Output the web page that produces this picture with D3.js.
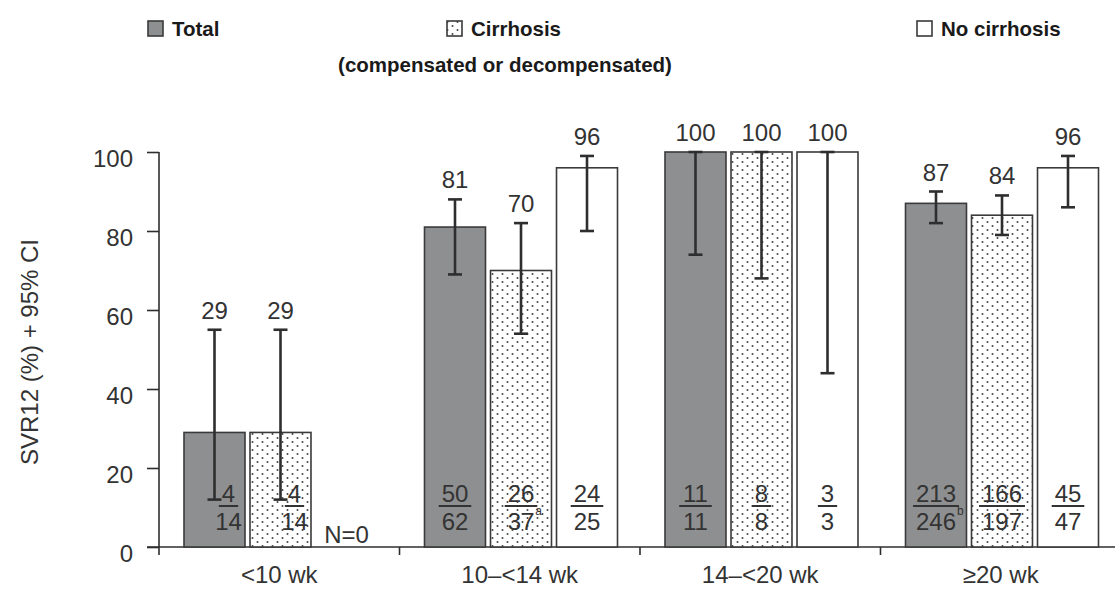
<!DOCTYPE html>
<html>
<head>
<meta charset="utf-8">
<script src="https://cdn.jsdelivr.net/npm/d3@7"></script>
<style>
  html, body { margin: 0; padding: 0; background: #fff; }
  svg { display: block; font-family: "Liberation Sans", Arial, sans-serif; }
</style>
</head>
<body>
<svg id="chart" width="1115" height="589"></svg>
<script>
// ---- data ----
const groups = ["<10 wk", "10\u2013<14 wk", "14\u2013<20 wk", "\u226520 wk"];
const seriesNames = ["Total", "Cirrhosis", "No cirrhosis"];
const totalValues = [29, 81, 100, 87];
const cirrhosisValues = [29, 70, 100, 84];
const noCirrhosisValues = [null, 96, 100, 96];
const totalLow = [12, 69, 74, 82];
const totalHigh = [55, 88, 100, 90];
const cirrhosisLow = [12, 54, 68, 79];
const cirrhosisHigh = [55, 82, 100, 89];
const noCirrhosisLow = [null, 80, 44, 86];
const noCirrhosisHigh = [null, 99, 100, 99];
const totalNum = [4, 50, 11, 213];
const totalDen = [14, 62, 11, 246];
const cirrhosisNum = [4, 26, 8, 166];
const cirrhosisDen = [14, 37, 8, 197];
const noCirrhosisNum = [null, 24, 3, 45];
const noCirrhosisDen = [null, 25, 3, 47];
const totalNote = [null, null, null, "b"];
const cirrhosisNote = [null, "a", null, null];
const noCirrhosisNote = [null, null, null, null];
const yTicks = [0, 20, 40, 60, 80, 100];
const yTitle = "SVR12 (%) + 95% CI";
const legendSub = "(compensated or decompensated)";

const seriesData = [
  { name: seriesNames[0], values: totalValues, low: totalLow, high: totalHigh, num: totalNum, den: totalDen, note: totalNote },
  { name: seriesNames[1], values: cirrhosisValues, low: cirrhosisLow, high: cirrhosisHigh, num: cirrhosisNum, den: cirrhosisDen, note: cirrhosisNote },
  { name: seriesNames[2], values: noCirrhosisValues, low: noCirrhosisLow, high: noCirrhosisHigh, num: noCirrhosisNum, den: noCirrhosisDen, note: noCirrhosisNote }
];

// ---- layout ----
const svg = d3.select("#chart");
const ink = "#2e2e2e";
const totalFill = "#8e8f91";

const defs = svg.append("defs");
const pat = defs.append("pattern").attr("id", "dots")
  .attr("patternUnits", "userSpaceOnUse").attr("width", 10).attr("height", 8);
pat.append("rect").attr("width", 10).attr("height", 8).attr("fill", "#fff");
pat.append("circle").attr("cx", 2.5).attr("cy", 2).attr("r", 1).attr("fill", "#444");
pat.append("circle").attr("cx", 7.5).attr("cy", 6).attr("r", 1).attr("fill", "#444");

const fills = [totalFill, "url(#dots)", "#fff"];

const x0 = d3.scaleBand().domain(groups).range([159, 1121]).padding(0);
const x1 = d3.scaleBand().domain(seriesNames).range([25, 218]).paddingInner(0.076).paddingOuter(0);
const y = d3.scaleLinear().domain([0, 100]).range([547, 152]);

// y axis
const yAxis = d3.axisLeft(y).tickValues(yTicks).tickSize(12).tickPadding(14);
const yg = svg.append("g").attr("transform", "translate(159,0)").call(yAxis);
yg.select(".domain").attr("stroke", ink).attr("stroke-width", 1.6).attr("d", `M0,${y(100)}V${y(0)}`);
yg.selectAll(".tick line").attr("stroke", ink).attr("stroke-width", 1.6);
yg.selectAll(".tick text").attr("fill", "#333").attr("font-size", 24)
  .attr("font-family", "'Liberation Sans', Arial, sans-serif").attr("dy", "0.6em");

// x axis
const xg = svg.append("g").attr("transform", `translate(0,${y(0)})`);
xg.append("line").attr("x1", 147).attr("x2", 1115).attr("y1", 0).attr("y2", 0)
  .attr("stroke", ink).attr("stroke-width", 1.6);
xg.selectAll(".bt").data(groups).join("line").attr("class", "bt")
  .attr("x1", d => x0(d)).attr("x2", d => x0(d)).attr("y1", 0).attr("y2", 8)
  .attr("stroke", ink).attr("stroke-width", 1.6);
xg.selectAll(".xl").data(groups).join("text").attr("class", "xl")
  .attr("x", d => x0(d) + x0.bandwidth() / 2).attr("y", 36)
  .attr("text-anchor", "middle").attr("font-size", 24).attr("fill", "#333")
  .text(d => d);

// y title
svg.append("text").attr("transform", "translate(38,352) rotate(-90)")
  .attr("text-anchor", "middle").attr("font-size", 24).attr("fill", "#333").text(yTitle);

// bars
const cells = [];
seriesData.forEach((s, si) => {
  groups.forEach((g, gi) => {
    cells.push({ s, si, g, gi, v: s.values[gi], lo: s.low[gi], hi: s.high[gi],
      num: s.num[gi], den: s.den[gi], note: s.note[gi] });
  });
});

const plot = svg.append("g");
const valid = cells.filter(c => c.v != null);

plot.selectAll(".bar").data(valid).join("rect").attr("class", "bar")
  .attr("x", c => x0(c.g) + x1(c.s.name))
  .attr("y", c => y(c.v))
  .attr("width", x1.bandwidth())
  .attr("height", c => y(0) - y(c.v))
  .attr("fill", c => fills[c.si])
  .attr("stroke", "#3a3a3a").attr("stroke-width", 1.6);

// error bars
const cx = c => x0(c.g) + x1(c.s.name) + x1.bandwidth() / 2;
const eb = plot.selectAll(".eb").data(valid).join("g").attr("class", "eb")
  .attr("stroke", ink).attr("stroke-width", 2.6);
eb.append("line").attr("x1", cx).attr("x2", cx).attr("y1", c => y(c.lo)).attr("y2", c => y(c.hi));
eb.append("line").attr("x1", c => cx(c) - 7).attr("x2", c => cx(c) + 7).attr("y1", c => y(c.lo)).attr("y2", c => y(c.lo));
eb.append("line").attr("x1", c => cx(c) - 7).attr("x2", c => cx(c) + 7).attr("y1", c => y(c.hi)).attr("y2", c => y(c.hi));

// value labels
plot.selectAll(".vl").data(valid).join("text").attr("class", "vl")
  .attr("x", cx).attr("y", c => Math.min(y(c.v), y(c.hi)) - 11)
  .attr("text-anchor", "middle").attr("font-size", 24).attr("fill", "#333")
  .text(c => c.v);

// fractions
const lineW = c => String(c.num).length * 13.3 + 6;
const fr = plot.selectAll(".fr").data(valid).join("g").attr("class", "fr")
  .attr("transform", c => `translate(${cx(c) + (c.lo < 25 ? 14 : 0)},0)`);
fr.append("text").attr("x", 0).attr("y", 502).attr("text-anchor", "middle")
  .attr("font-size", 24).attr("fill", "#333").text(c => c.num);
fr.append("text").attr("x", 0).attr("y", 530).attr("text-anchor", "middle")
  .attr("font-size", 24).attr("fill", "#333").text(c => c.den);
fr.append("line")
  .attr("x1", c => -lineW(c) / 2).attr("x2", c => lineW(c) / 2)
  .attr("y1", 506).attr("y2", 506).attr("stroke", "#333").attr("stroke-width", 2);
fr.filter(c => c.note).append("text")
  .attr("x", c => String(c.den).length * 13.3 / 2 + 1).attr("y", 515)
  .attr("font-size", 12).attr("fill", "#333").text(c => c.note);

// N=0 for empty cells
const empty = cells.filter(c => c.v == null);
plot.selectAll(".n0").data(empty).join("text").attr("class", "n0")
  .attr("x", cx).attr("y", 543).attr("text-anchor", "middle")
  .attr("font-size", 24).attr("fill", "#333").text("N=0");

// legend
const legendX = [148, 447, 917];
const lg = svg.append("g");
seriesData.forEach((s, i) => {
  lg.append("rect").attr("x", legendX[i]).attr("y", 21).attr("width", 15).attr("height", 15)
    .attr("fill", fills[i]).attr("stroke", "#3a3a3a").attr("stroke-width", 1.6);
  lg.append("text").attr("x", legendX[i] + 24).attr("y", 36)
    .attr("font-size", 20.5).attr("font-weight", "bold").attr("fill", "#1a1a1a").text(s.name);
});
lg.append("text").attr("x", 505).attr("y", 72).attr("text-anchor", "middle")
  .attr("font-size", 20.5).attr("font-weight", "bold").attr("fill", "#1a1a1a").text(legendSub);
</script>
</body>
</html>
